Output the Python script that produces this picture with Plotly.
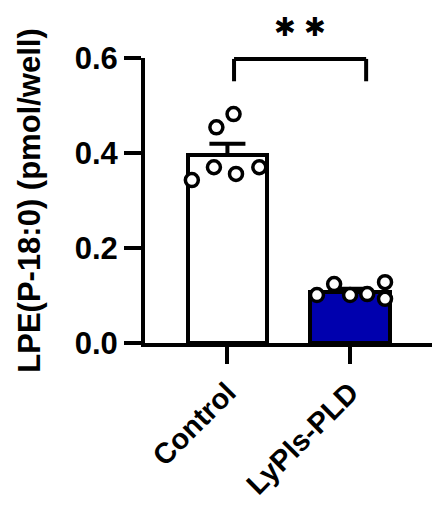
import numpy as np
import plotly.graph_objects as go

# ---- data ----
categories = ["Control", "LyPls-PLD"]
control_values = [0.343, 0.370, 0.356, 0.370, 0.454, 0.482]
lypls_values = [0.101, 0.124, 0.101, 0.103, 0.128, 0.093]
control_jitter = [-0.29, -0.11, 0.07, 0.26, -0.09, 0.05]
lypls_jitter = [-0.27, -0.13, 0.0, 0.14, 0.285, 0.285]
y_tick_values = [0.0, 0.2, 0.4, 0.6]
significance_label = "✱ ✱"
bracket_y = 0.598
bracket_leg_y = 0.551
star_y = 0.70

groups = [control_values, lypls_values]
jitters = [control_jitter, lypls_jitter]
bar_colors = ["white", "#0000AE"]

idx = np.arange(len(categories))
means = [float(np.mean(g)) for g in groups]
sems = [float(np.std(g, ddof=1) / np.sqrt(len(g))) for g in groups]

FONT = "Liberation Sans, Arial, sans-serif"
YMAX = 0.6

fig = go.Figure()
fig.add_trace(go.Bar(
    x=idx, y=means, width=0.65,
    marker=dict(color=bar_colors, line=dict(color="black", width=4)),
    error_y=dict(type="data", array=sems, arrayminus=[0, 0], symmetric=False,
                 color="black", thickness=4, width=18),
    showlegend=False,
))
for i, (g, j) in enumerate(zip(groups, jitters)):
    fig.add_trace(go.Scatter(
        x=[i + dj for dj in j], y=g, mode="markers",
        marker=dict(size=13, color="white", line=dict(color="black", width=3.5)),
        showlegend=False, cliponaxis=False,
    ))

# significance bracket
x0, x1 = 0.054, 1.131
for xs, ys in [([x0, x0], [bracket_leg_y, bracket_y]),
               ([x0, x1], [bracket_y, bracket_y]),
               ([x1, x1], [bracket_y, bracket_leg_y])]:
    fig.add_shape(type="line", xref="x", yref="paper",
                  x0=xs[0], x1=xs[1], y0=ys[0] / YMAX, y1=ys[1] / YMAX,
                  line=dict(color="black", width=4))
fig.add_annotation(x=(x0 + x1) / 2, y=star_y / YMAX, xref="x", yref="paper",
                   text=significance_label, showarrow=False,
                   font=dict(family="DejaVu Sans", size=26, color="black"))

fig.update_layout(
    width=432, height=515,
    margin=dict(l=145, r=0, t=58, b=172),
    plot_bgcolor="white", paper_bgcolor="white",
    font=dict(family=FONT, color="black"),
    bargap=0,
)
fig.update_xaxes(
    range=[-0.672, 1.668], tickvals=idx, ticktext=categories, tickangle=-45,
    showline=True, linewidth=4, linecolor="black",
    ticks="outside", ticklen=17, tickwidth=4, tickcolor="black",
    showgrid=False, zeroline=False,
    tickfont=dict(family=FONT, size=29, color="black", weight="bold"),
)
fig.update_yaxes(
    range=[0, YMAX], tickvals=y_tick_values, tickformat=".1f",
    showline=True, linewidth=4, linecolor="black",
    ticks="outside", ticklen=17, tickwidth=4, tickcolor="black",
    showgrid=False, zeroline=False,
    tickfont=dict(family=FONT, size=31, color="black", weight="bold"),
    title=dict(text="LPE(P-18:0) (pmol/well)", standoff=26,
               font=dict(family=FONT, size=31, color="black", weight="bold")),
)

fig.write_html("out.html")
